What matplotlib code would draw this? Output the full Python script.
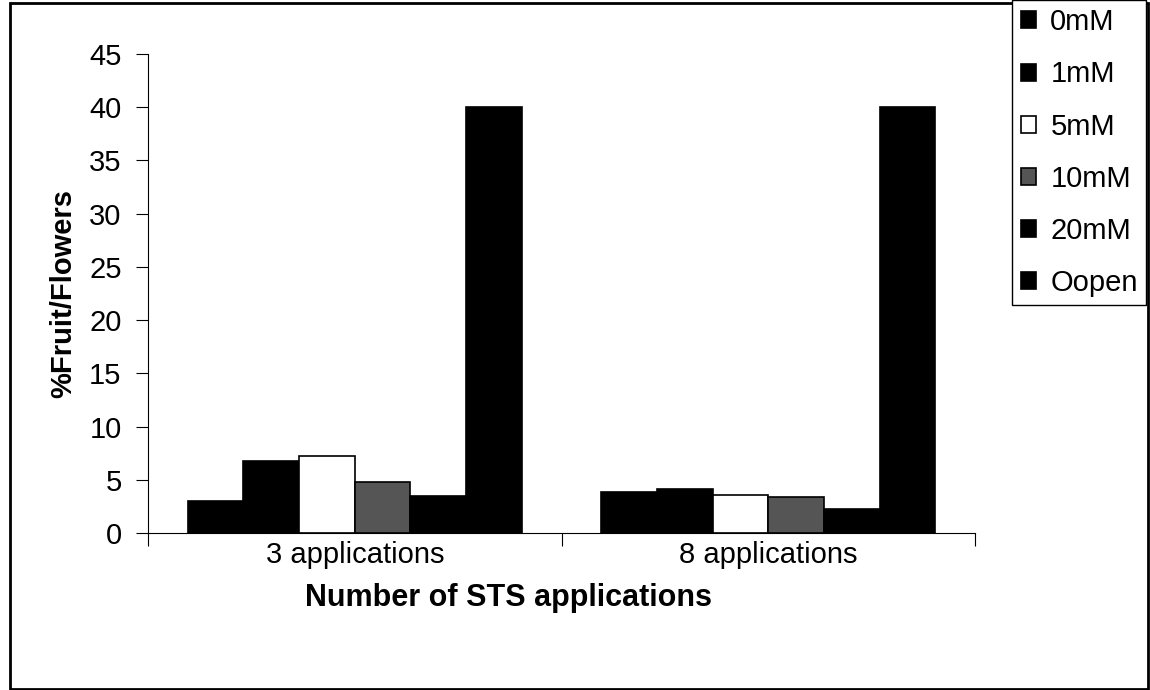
import numpy as np
import matplotlib
matplotlib.use("Agg")
from matplotlib import pyplot as plt
from matplotlib.patches import Rectangle

plt.rcParams['font.family'] = ['Liberation Sans', 'DejaVu Sans']

groups = ["3 applications", "8 applications"]
series = ["0mM", "1mM", "5mM", "10mM", "20mM", "Oopen"]
values = {
    "0mM": [3.0, 3.9],
    "1mM": [6.8, 4.1],
    "5mM": [7.2, 3.6],
    "10mM": [4.75, 3.4],
    "20mM": [3.45, 2.3],
    "Oopen": [40.0, 40.0],
}
face = ["black", "black", "white", "#555555", "black", "black"]

fig = plt.figure(figsize=(11.5, 6.9), dpi=100)
ax = fig.add_axes([0.1287, 0.2275, 0.7193, 0.6942])

x = np.arange(len(groups))
w = 0.1346
for i, s in enumerate(series):
    ax.bar(x + (i - 2.5) * w, values[s], width=w, color=face[i],
           edgecolor="black", linewidth=1.2, label=s)

ax.set_xlim(-0.5, 1.5)
ax.set_ylim(0, 45)
ax.set_yticks(range(0, 46, 5))
ax.set_xticks([-0.5, 0.5, 1.5])
ax.set_xticklabels([])
ax.set_xticks(x, minor=True)
ax.set_xticklabels(groups, minor=True)
ax.tick_params(axis='x', which='minor', length=0, pad=6, labelsize=21)
ax.tick_params(axis='x', which='major', length=9, direction='out', width=0.8)
ax.tick_params(axis='y', length=9, width=0.8, direction='out', labelsize=21, pad=10)
ax.spines['top'].set_visible(False)
ax.spines['right'].set_visible(False)

ax.set_ylabel("%Fruit/Flowers", fontsize=21, fontweight='bold')
ax.yaxis.set_label_coords(-0.086, 0.5)
# axis title is centred on the chart area left of the legend
fig.text(508 / 1150, 1 - 598 / 690, "Number of STS applications", fontsize=22,
         fontweight='bold', ha='center', va='center')

leg = fig.legend(loc='upper right', bbox_to_anchor=(0.9965, 1.0), fontsize=21,
                 handlelength=0.52, handleheight=0.52, handletextpad=0.5,
                 labelspacing=0.83, borderpad=0.28, borderaxespad=0,
                 fancybox=False, framealpha=1, edgecolor='black')
leg.get_frame().set_linewidth(1.0)

fig.patches.append(Rectangle((0.009, 0.002), 0.989, 0.993, transform=fig.transFigure,
                             fill=False, edgecolor='black', linewidth=2, zorder=-1))

fig.savefig("out.png", dpi=100)
